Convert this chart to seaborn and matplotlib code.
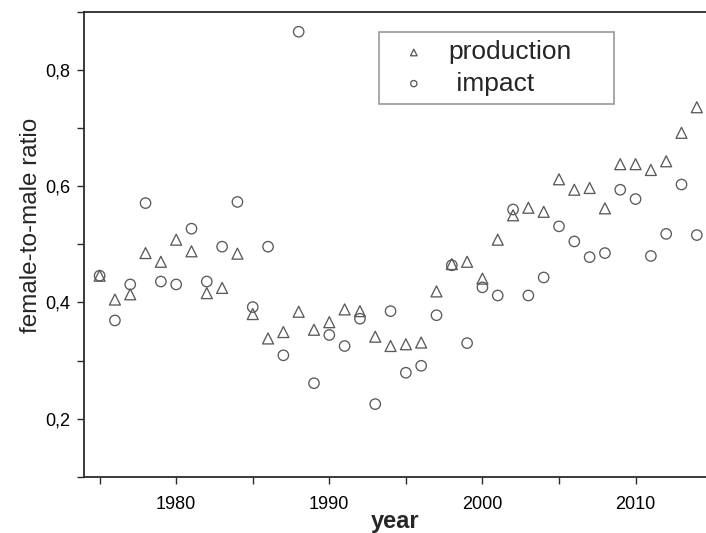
import matplotlib
matplotlib.use('Agg')
import matplotlib.pyplot as plt
from matplotlib.ticker import MultipleLocator, FuncFormatter
import pandas as pd
import seaborn as sns

# values
years = list(range(1975, 2015))
production = [0.446, 0.405, 0.414, 0.485, 0.470, 0.508, 0.488, 0.416, 0.425, 0.484,
              0.380, 0.338, 0.349, 0.384, 0.353, 0.366, 0.388, 0.385, 0.341, 0.325,
              0.328, 0.331, 0.419, 0.466, 0.470, 0.441, 0.508, 0.550, 0.563, 0.556,
              0.612, 0.594, 0.597, 0.562, 0.638, 0.638, 0.628, 0.643, 0.692, 0.736]
impact = [0.446, 0.369, 0.431, 0.571, 0.436, 0.431, 0.527, 0.436, 0.496, 0.573,
          0.392, 0.496, 0.309, 0.866, 0.261, 0.344, 0.325, 0.372, 0.225, 0.385,
          0.279, 0.291, 0.378, 0.464, 0.330, 0.426, 0.412, 0.560, 0.412, 0.443,
          0.531, 0.505, 0.478, 0.485, 0.594, 0.578, 0.480, 0.518, 0.603, 0.516]
series_labels = ['production', ' impact']

df = pd.DataFrame({'year': years, 'production': production, 'impact': impact})

sns.set_theme(style='ticks')
plt.rcParams['font.family'] = ['Liberation Sans', 'DejaVu Sans']

mk_color = '#5a5a5a'
spine_color = '#2b2b2b'

fig = plt.figure(figsize=(7.06, 5.33), dpi=100)
ax = fig.add_axes([0.1194, 0.1056, 0.8806, 0.8719])

# open triangles for production, open circles for impact
sns.scatterplot(data=df, x='year', y='production', marker='^', s=62,
                color=mk_color, facecolor='none', edgecolor=mk_color,
                linewidth=0.95, ax=ax, label=series_labels[0])
sns.scatterplot(data=df, x='year', y='impact', marker='o', s=56,
                color=mk_color, facecolor='none', edgecolor=mk_color,
                linewidth=0.95, ax=ax, label=series_labels[1])

ax.set_xlim(1974.0, 2014.6)
ax.set_ylim(0.1, 0.9)

ax.xaxis.set_major_locator(MultipleLocator(10))
ax.xaxis.set_minor_locator(MultipleLocator(5))
ax.yaxis.set_major_locator(MultipleLocator(0.2))
ax.yaxis.set_minor_locator(MultipleLocator(0.1))
ax.yaxis.set_major_formatter(FuncFormatter(lambda v, p: f'{v:.1f}'.replace('.', ',')))

ax.tick_params(axis='both', which='both', direction='out', length=5,
               width=1.0, color=spine_color, labelsize=13, labelcolor='black')
ax.tick_params(axis='x', which='major', pad=9)
ax.tick_params(axis='y', which='major', pad=5)

for side in ['left', 'bottom', 'top']:
    ax.spines[side].set_color(spine_color)
    ax.spines[side].set_linewidth(1.3)
ax.spines['right'].set_visible(False)

ax.set_xlabel('year', fontsize=17, fontweight='bold', labelpad=-2.5)
ax.set_ylabel('female-to-male ratio', fontsize=17.5)
ax.yaxis.set_label_coords(-0.068, 0.54)

leg = ax.legend(loc='upper left', bbox_to_anchor=(0.474, 0.776, 0.378, 0.181),
                mode='expand', borderaxespad=0, fontsize=19, markerscale=0.6,
                fancybox=False, frameon=True, borderpad=0.32, labelspacing=0.27,
                handlelength=2.0, handletextpad=0.32)
leg.get_frame().set_edgecolor('#808080')
leg.get_frame().set_linewidth(1.2)

fig.savefig('out.png', dpi=100)
